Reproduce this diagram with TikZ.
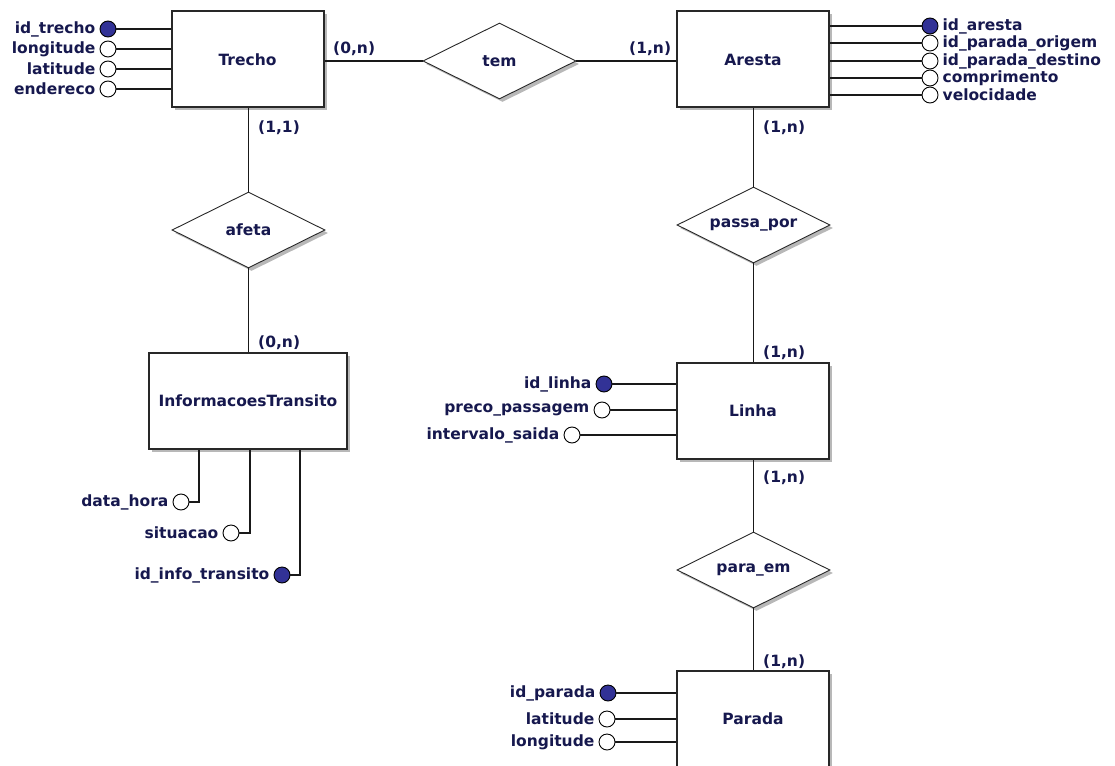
\documentclass[tikz,border=0pt]{standalone}
\usepackage{fontspec}
\setmainfont{DejaVu Sans}
\usetikzlibrary{shapes.geometric,shadows}
\definecolor{navy}{RGB}{22,24,78}
\definecolor{keyblue}{RGB}{50,50,150}
\definecolor{edge}{RGB}{40,40,40}
\begin{document}
\begin{tikzpicture}[x=1pt,y=-1pt,
  every node/.style={font=\fontsize{15.5}{17}\selectfont\bfseries, text=navy},
  shad/.style={general shadow={fill=black!28, shadow xshift=3pt, shadow yshift=-3pt}},
  ent/.style={rectangle, draw=edge, line width=2pt, fill=white, minimum width=152pt, minimum height=96pt, inner sep=0pt, shad},
  rel/.style={diamond, draw=edge, line width=0.9pt, fill=white, minimum width=153pt, minimum height=76pt, inner sep=0pt, shad},
  attr/.style={circle, draw=black, line width=0.9pt, fill=white, minimum size=16pt, inner sep=0pt},
  keyattr/.style={attr, fill=keyblue},
  lblr/.style={anchor=east, inner sep=0pt, xshift=-4pt},
  lbll/.style={anchor=west, inner sep=0pt, xshift=4pt},
  card/.style={anchor=west, inner sep=0pt},
  conn/.style={draw=black!90, line width=1.3pt}]
\useasboundingbox (0,0) rectangle (1115,765);
\clip (0,0) rectangle (1115,765);

% entities
\node[ent] (trecho) at (247.5,59.5) {Trecho};
\node[ent] (aresta) at (753,59.5) {Aresta};
\node[ent, minimum width=198pt] (info) at (248,401) {InformacoesTransito};
\node[ent] (linha) at (753,410.5) {Linha};
\node[ent] (parada) at (753,719) {Parada};

% relationships
\node[rel] (tem) at (499.5,61) {};
\node[rel] (afeta) at (248.5,230) {};
\node[rel] (passa) at (753.5,225) {};
\node[rel] (paraem) at (753.5,570) {};
\node (temt) at (tem) {tem};
\node (afetat) at (afeta) {afeta};
\node (passat) at (passa) {passa\_por};
\node (paraemt) at (paraem) {para\_em};

% relationship connectors
\draw[conn] (tem.west) -- (tem.west -| trecho.east);
\draw[conn] (tem.east) -- (tem.east -| aresta.west);
\draw[conn] (afeta.north) -- (afeta.north |- trecho.south);
\draw[conn] (afeta.south) -- (afeta.south |- info.north);
\draw[conn] (passa.north) -- (passa.north |- aresta.south);
\draw[conn] (passa.south) -- (passa.south |- linha.north);
\draw[conn] (paraem.north) -- (paraem.north |- linha.south);
\draw[conn] (paraem.south) -- (paraem.south |- parada.north);

% cardinalities
\node[card] (c1) at (333,49) {(0,n)};
\node[card] (c2) at (629,49) {(1,n)};
\node[card] (c3) at (258,128) {(1,1)};
\node[card] (c4) at (258,343) {(0,n)};
\node[card] (c5) at (763,128) {(1,n)};
\node[card] (c6) at (763,353) {(1,n)};
\node[card] (c7) at (763,478) {(1,n)};
\node[card] (c8) at (763,662) {(1,n)};

% Trecho attributes
\node[keyattr] (t1) at (108,29) {};
\node[attr] (t2) at (108,49) {};
\node[attr] (t3) at (108,69) {};
\node[attr] (t4) at (108,89) {};
\foreach \n/\t in {t1/id\_trecho, t2/longitude, t3/latitude, t4/endereco}{
  \draw[conn] (\n.east) -- (\n -| trecho.west);
  \node[lblr] at (\n.west) {\t};
}

% Aresta attributes
\node[attr] (a2) at (930,43) {};
\node[attr] (a3) at (930,61) {};
\node[attr] (a4) at (930,78) {};
\node[attr] (a5) at (930,95) {};
\node[keyattr] (a1) at (930,26) {};
\foreach \n/\t in {a1/id\_aresta, a2/id\_parada\_origem, a3/id\_parada\_destino, a4/comprimento, a5/velocidade}{
  \draw[conn] (\n.west) -- (\n -| aresta.east);
  \node[lbll] at (\n.east) {\t};
}

% InformacoesTransito attributes
\node[attr] (i1) at (181,502) {};
\node[attr] (i2) at (231,533) {};
\node[keyattr] (i3) at (282,575) {};
\coordinate (ib1) at (199,0);
\coordinate (ib2) at (250,0);
\coordinate (ib3) at (300,0);
\draw[conn] (ib1 |- info.south) -- (ib1 |- i1) -- (i1.east);
\draw[conn] (ib2 |- info.south) -- (ib2 |- i2) -- (i2.east);
\draw[conn] (ib3 |- info.south) -- (ib3 |- i3) -- (i3.east);
\node[lblr] at (i1.west) {data\_hora};
\node[lblr] at (i2.west) {situacao};
\node[lblr] at (i3.west) {id\_info\_transito};

% Linha attributes
\node[keyattr] (l1) at (604,384) {};
\node[attr] (l2) at (602,410) {};
\node[attr] (l3) at (572,435) {};
\foreach \n/\t in {l1/id\_linha, l2/preco\_passagem, l3/intervalo\_saida}{
  \draw[conn] (\n.east) -- (\n -| linha.west);
  \node[lblr] at (\n.west) {\t};
}

% Parada attributes
\node[keyattr] (p1) at (608,693) {};
\node[attr] (p2) at (607,719) {};
\node[attr] (p3) at (607,742) {};
\foreach \n/\t in {p1/id\_parada, p2/latitude, p3/longitude}{
  \draw[conn] (\n.east) -- (\n -| parada.west);
  \node[lblr] at (\n.west) {\t};
}
\end{tikzpicture}
\end{document}
